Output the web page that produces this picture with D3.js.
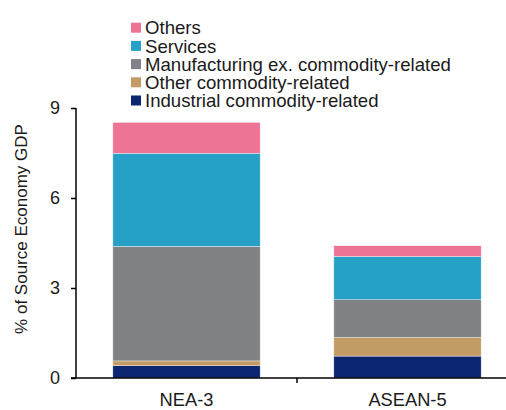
<!DOCTYPE html>
<html><head><meta charset="utf-8">
<script src="https://cdn.jsdelivr.net/npm/d3@7"></script>
<style>body{margin:0;background:#fff}svg{display:block}text{font-family:"Liberation Sans",Arial,sans-serif;fill:#1a1a1a}</style>
</head><body><svg id="c" width="506" height="410"></svg>
<script>
const categories = ["NEA-3", "ASEAN-5"];
const seriesNames = ["Industrial commodity-related", "Other commodity-related", "Manufacturing ex. commodity-related", "Services", "Others"];
const industrial = [0.41, 0.73];
const otherCommodity = [0.16, 0.62];
const manufacturing = [3.82, 1.26];
const services = [3.10, 1.44];
const others = [1.03, 0.36];
const colors = ["#0b2570", "#c29b65", "#818286", "#27a0c7", "#ee7495"];
const yTicks = [0, 3, 6, 9];

const values = [industrial, otherCommodity, manufacturing, services, others];
const rows = categories.map((c, i) => {
  const r = {cat: c};
  seriesNames.forEach((s, k) => r[s] = values[k][i]);
  return r;
});
const stack = d3.stack().keys(seriesNames)(rows);

const svg = d3.select("#c");
const x = d3.scaleBand().domain(categories).range([76, 518]).paddingInner(1/3).paddingOuter(1/6);
const y = d3.scaleLinear().domain([0, 9]).range([378, 108]);

svg.append("g").selectAll("g").data(stack).join("g")
  .attr("fill", (d, i) => colors[i])
  .selectAll("rect").data(d => d).join("rect")
  .attr("x", d => x(d.data.cat))
  .attr("width", x.bandwidth())
  .attr("y", d => y(d[1]))
  .attr("height", d => y(d[0]) - y(d[1]))
  .attr("stroke", "#ffffff").attr("stroke-opacity", 0.6).attr("stroke-width", 0.6);

// y axis
const ya = svg.append("g").attr("transform", "translate(76,0)")
  .call(d3.axisLeft(y).tickValues(yTicks).tickSize(5).tickPadding(11).tickFormat(d3.format("d")));
ya.select(".domain").attr("stroke", "#000").attr("stroke-width", 1.5).attr("d", "M0,108V378");
ya.selectAll(".tick line").attr("stroke", "#000").attr("stroke-width", 1.5);
ya.selectAll(".tick text").attr("font-size", 18).style("font-family", '"Liberation Sans",Arial,sans-serif').attr("fill", "#1a1a1a");

// x axis
const xa = svg.append("g").attr("transform", "translate(0,378)");
xa.append("line").attr("x1", 71).attr("x2", 518).attr("y1", 0).attr("y2", 0).attr("stroke", "#000").attr("stroke-width", 1.5);
const mid = (x("NEA-3") + x.bandwidth() + x("ASEAN-5")) / 2;
xa.append("line").attr("x1", mid).attr("x2", mid)
  .attr("y1", 0).attr("y2", 5).attr("stroke", "#000").attr("stroke-width", 1.5);
xa.selectAll("text.cat").data(categories).join("text").attr("class", "cat")
  .attr("x", d => x(d) + x.bandwidth() / 2).attr("y", 28)
  .attr("text-anchor", "middle").attr("font-size", 18.3).text(d => d);

// y title
svg.append("text").attr("transform", "translate(27,229) rotate(-90)")
  .attr("text-anchor", "middle").attr("font-size", 17).text("% of Source Economy GDP");

// legend
const legendOrder = seriesNames.map((s, i) => ({s, c: colors[i]})).reverse();
const lg = svg.append("g");
legendOrder.forEach((d, i) => {
  const cy = 27.7 + i * 18.2;
  lg.append("rect").attr("x", 131).attr("y", cy - 5).attr("width", 10).attr("height", 10).attr("fill", d.c);
  lg.append("text").attr("x", 145).attr("y", cy).attr("dy", "0.36em").attr("font-size", 18.6).text(d.s);
});
</script></body></html>
